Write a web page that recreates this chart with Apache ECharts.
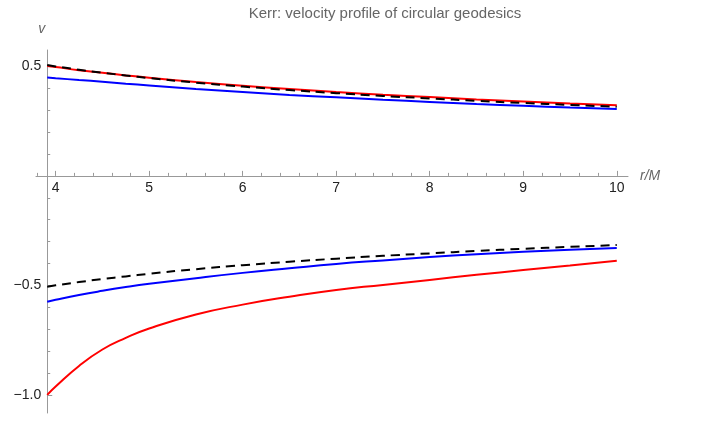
<!DOCTYPE html>
<html>
<head>
<meta charset="utf-8">
<script src="https://cdn.jsdelivr.net/npm/echarts@6/dist/echarts.min.js"></script>
<style>html,body{margin:0;padding:0;background:#fff}#c{width:704px;height:422px}</style>
</head>
<body>
<div id="c"></div>
<script>
const rValues = [3.91, 4, 4.25, 4.5, 4.75, 5, 5.5, 6, 6.5, 7, 7.5, 8, 8.5, 9, 9.5, 10];
const redUpper = [0.502, 0.497, 0.483, 0.471, 0.459, 0.448, 0.429, 0.412, 0.397, 0.383, 0.371, 0.360, 0.349, 0.340, 0.331, 0.323];
const blueUpper = [0.449, 0.446, 0.438, 0.430, 0.421, 0.413, 0.397, 0.383, 0.370, 0.359, 0.348, 0.338, 0.328, 0.320, 0.312, 0.305];
const dashUpper = [0.506, 0.500, 0.485, 0.471, 0.459, 0.447, 0.426, 0.408, 0.392, 0.378, 0.365, 0.354, 0.343, 0.333, 0.324, 0.316];
const redLower = [-1.000, -0.962, -0.868, -0.793, -0.740, -0.697, -0.633, -0.588, -0.552, -0.521, -0.498, -0.475, -0.452, -0.430, -0.409, -0.388];
const blueLower = [-0.575, -0.566, -0.544, -0.525, -0.508, -0.493, -0.467, -0.443, -0.422, -0.402, -0.386, -0.371, -0.358, -0.347, -0.337, -0.329];
const dashLower = [-0.506, -0.500, -0.485, -0.471, -0.459, -0.447, -0.426, -0.408, -0.392, -0.378, -0.365, -0.354, -0.343, -0.333, -0.324, -0.316];

const xMajorTicks = [4, 5, 6, 7, 8, 9, 10];
const xMinorTicks = [3.8,4.2,4.4,4.6,4.8,5.2,5.4,5.6,5.8,6.2,6.4,6.6,6.8,7.2,7.4,7.6,7.8,8.2,8.4,8.6,8.8,9.2,9.4,9.6,9.8];
const yMajorTicks = [-1.0, -0.5, 0.5];
const yMinorTicks = [-0.9,-0.8,-0.7,-0.6,-0.4,-0.3,-0.2,-0.1,0.1,0.2,0.3,0.4];

const title = 'Kerr: velocity profile of circular geodesics';
const xName = 'r/M';
const yName = 'v';

const X_MIN = 3.79, X_MAX = 10.12, X_ORIGIN = 3.91;
const Y_MIN = -1.083, Y_MAX = 0.575;

const pairs = ys => rValues.map((r, i) => [r, ys[i]]);
const axisGray = '#999999';
const labelColor = '#222222';
const fontFam = '"Liberation Sans", Arial, sans-serif';

const GL = 36, GR = 76, GT = 50, GB = 9;
const PLOT_H = 422 - GT - GB;
// height of the x-axis grid so that its bottom edge lands on v = 0
const xGridH = PLOT_H * (Y_MAX - 0) / (Y_MAX - Y_MIN);
const yGridLeft = GL + (704 - GL - GR) * (X_ORIGIN - X_MIN) / (X_MAX - X_MIN);

const chart = echarts.init(document.getElementById('c'), null, {renderer: 'canvas'});

function line(data, color, dashed) {
  return {
    type: 'line', xAxisIndex: 3, yAxisIndex: 3, data: data,
    showSymbol: false, smooth: 0.5, animation: false,
    lineStyle: {color: color, width: 2, type: dashed ? [9, 6] : 'solid'},
    z: dashed ? 3 : 2
  };
}

chart.setOption({
  animation: false,
  title: {
    text: title, left: 380, top: 1, textAlign: 'center',
    textStyle: {fontSize: 15, fontWeight: 'normal', color: '#666666', fontFamily: fontFam}
  },
  grid: [
    {left: GL, right: GR, top: GT, height: xGridH, outerBoundsMode: 'none', containLabel: false},
    {left: yGridLeft, right: GR, top: GT, bottom: GB, outerBoundsMode: 'none', containLabel: false},
    {left: GL, right: GR, top: GT, bottom: GB, outerBoundsMode: 'none', containLabel: false}
  ],
  xAxis: [
    {
      type: 'value', gridIndex: 0, min: X_MIN, max: X_MAX, position: 'bottom',
      axisLine: {show: true, onZero: false, lineStyle: {color: axisGray, width: 1}},
      axisTick: {show: true, inside: true, length: 5, customValues: xMajorTicks, lineStyle: {color: axisGray}},
      axisLabel: {show: true, customValues: xMajorTicks, color: labelColor, fontSize: 14, fontFamily: fontFam, margin: 5},
      splitLine: {show: false},
      name: xName, nameLocation: 'end', nameGap: 12,
      nameTextStyle: {fontStyle: 'italic', color: '#666666', fontSize: 14, fontFamily: fontFam, verticalAlign: 'middle', padding: [4, 0, 0, 0]}
    },
    {
      type: 'value', gridIndex: 0, min: X_MIN, max: X_MAX, position: 'bottom',
      axisLine: {show: false, onZero: false},
      axisTick: {show: true, inside: true, length: 3, customValues: xMinorTicks, lineStyle: {color: axisGray}},
      axisLabel: {show: false},
      splitLine: {show: false}
    },
    {type: 'value', gridIndex: 1, min: X_ORIGIN, max: X_MAX, show: false},
    {type: 'value', gridIndex: 2, min: X_MIN, max: X_MAX, show: false}
  ],
  yAxis: [
    {type: 'value', gridIndex: 0, min: 0, max: Y_MAX, show: false},
    {
      type: 'value', gridIndex: 1, min: Y_MIN, max: Y_MAX, position: 'left',
      axisLine: {show: true, onZero: false, lineStyle: {color: axisGray, width: 1}},
      axisTick: {show: true, inside: true, length: 5, customValues: yMajorTicks, lineStyle: {color: axisGray}},
      axisLabel: {
        show: true, customValues: yMajorTicks, color: labelColor, fontSize: 14, fontFamily: fontFam, margin: 6,
        formatter: v => (v < 0 ? '\u2212' : '') + Math.abs(v).toFixed(1)
      },
      splitLine: {show: false},
      name: yName, nameLocation: 'end', nameGap: 14,
      nameTextStyle: {fontStyle: 'italic', color: '#666666', fontSize: 14, fontFamily: fontFam, align: 'right', padding: [0, 2, 0, 0]}
    },
    {
      type: 'value', gridIndex: 1, min: Y_MIN, max: Y_MAX, position: 'left',
      axisLine: {show: false, onZero: false},
      axisTick: {show: true, inside: true, length: 3, customValues: yMinorTicks, lineStyle: {color: axisGray}},
      axisLabel: {show: false}, splitLine: {show: false}
    },
    {type: 'value', gridIndex: 2, min: Y_MIN, max: Y_MAX, show: false}
  ],
  series: [
    line(pairs(redUpper), '#ff0000', false),
    line(pairs(blueUpper), '#0000ff', false),
    line(pairs(dashUpper), '#000000', true),
    line(pairs(redLower), '#ff0000', false),
    line(pairs(blueLower), '#0000ff', false),
    line(pairs(dashLower), '#000000', true)
  ]
});
</script>
</body>
</html>
